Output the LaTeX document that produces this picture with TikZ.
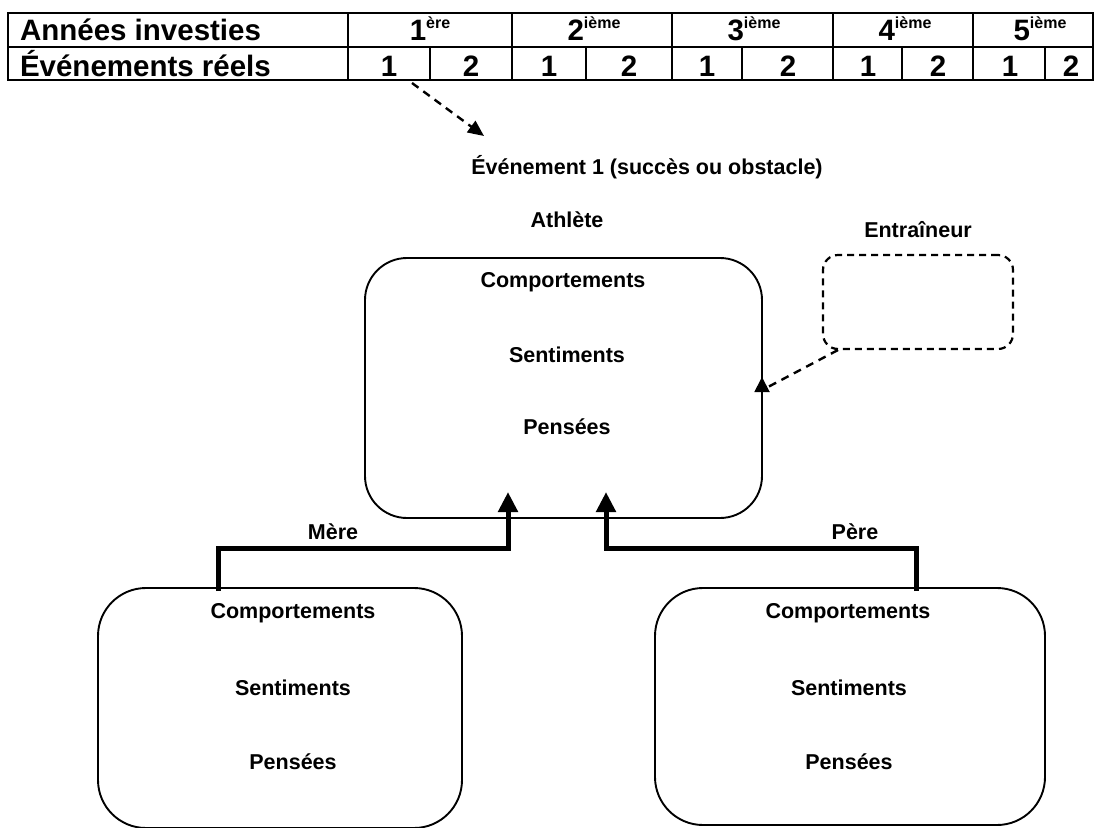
\documentclass[tikz,border=0pt]{standalone}
\usepackage{fontspec}
\setmainfont{Liberation Sans}
\usetikzlibrary{arrows.meta,calc}

\begin{document}
\begin{tikzpicture}[x=1pt,y=-1pt,
  every node/.style={inner sep=0pt, outer sep=0pt},
  label/.style={font=\bfseries\fontsize{21.5}{24}\selectfont},
  tabtext/.style={font=\bfseries\fontsize{29.5}{32}\selectfont},
  tabline/.style={line width=1.6pt},
  rbox/.style={draw, line width=1.9pt, rounded corners=44pt},
  dbox/.style={draw, line width=2.2pt, dash pattern=on 7pt off 5pt, rounded corners=15pt},
  dashlink/.style={line width=2.4pt, dash pattern=on 8pt off 6pt},
  parentlink/.style={line width=5pt, line join=miter, -{Triangle[length=20pt,width=19pt]}},
]
\useasboundingbox (0,0) rectangle (1094,827);

% ---- table of years and events ----
\draw[tabline] (8,13) rectangle (1093,80);
\draw[tabline] (8,47) -- (1093,47);
\foreach \x in {348,512,672,833,973} \draw[tabline] (\x,13) -- (\x,80);
\foreach \x in {430,586,742,902,1045} \draw[tabline] (\x,47) -- (\x,80);

\newcommand{\yr}[2]{#1\raisebox{12pt}{\fontsize{16}{16}\selectfont #2}}
\node[tabtext, anchor=base west] (years) at (20,40) {Années investies};
\node[tabtext, anchor=base west] (events) at (20,76) {Événements réels};
\node[tabtext, anchor=base] (y1) at (430,40) {\yr{1}{ère}};
\node[tabtext, anchor=base] (y2) at (594,40) {\yr{2}{ième}};
\node[tabtext, anchor=base] (y3) at (754,40) {\yr{3}{ième}};
\node[tabtext, anchor=base] (y4) at (905,40) {\yr{4}{ième}};
\node[tabtext, anchor=base] (y5) at (1040,40) {\yr{5}{ième}};
\foreach \n/\x/\t in {a/389/1,b/471/2,c/549/1,d/629/2,e/707/1,f/788/2,g/868/1,h/938/2,i/1010/1,j/1071/2}
  \node[tabtext, anchor=base] (ev\n) at (\x,76) {\t};

% ---- event and athlete ----
\node[label] (evt) at (647,167) {Événement 1 (succès ou obstacle)};
\coordinate (evstart) at (412,83);
\coordinate (evtip) at (484,136);
\draw[dashlink, -{Triangle[length=16pt,width=14pt]}] (evstart) -- (evtip);

\node[label] (athname) at (567,220) {Athlète};
\node[rbox, minimum width=397pt, minimum height=260pt, rounded corners=42pt] (ath) at (563.5,388) {};
\node[label] (ac) at (563,282) {Comportements};
\node[label] (as) at (567,355) {Sentiments};
\node[label] (ap) at (567,427) {Pensées};

% ---- coach ----
\node[label] (coachname) at (918,230) {Entraîneur};
\node[dbox, minimum width=190pt, minimum height=94pt] (coach) at (918,302) {};
\coordinate (cstart) at (838,350);
\coordinate (cbase) at (762,392);
\coordinate (ctip) at (762,377);
\draw[dashlink] (cstart) -- (768,387);
\draw[line width=1.9pt, -{Triangle[length=15pt,width=15pt]}] (cbase) -- (ctip);

% ---- mother ----
\node[rbox, minimum width=364pt, minimum height=240pt, rounded corners=48pt] (mbox) at (280,708) {};
\node[label] (mc) at (293,613) {Comportements};
\node[label] (ms) at (293,688) {Sentiments};
\node[label] (mp) at (293,762) {Pensées};
\node[label] (mname) at (333,532) {Mère};
\coordinate (mstart) at (218,591);
\coordinate (mc1) at (218,548);
\coordinate (mc2) at (508,548);
\coordinate (mtip) at (508,492);
\draw[parentlink] (mstart) -- (mc1) -- (mc2) -- (mtip);

% ---- father ----
\node[rbox, minimum width=390pt, minimum height=237pt, rounded corners=48pt] (fbox) at (850,706.5) {};
\node[label] (fc) at (848,613) {Comportements};
\node[label] (fs) at (849,688) {Sentiments};
\node[label] (fp) at (849,762) {Pensées};
\node[label] (fname) at (855,532) {Père};
\coordinate (fstart) at (916,591);
\coordinate (fc1) at (916,548);
\coordinate (fc2) at (606,548);
\coordinate (ftip) at (606,492);
\draw[parentlink] (fstart) -- (fc1) -- (fc2) -- (ftip);
\end{tikzpicture}
\end{document}
